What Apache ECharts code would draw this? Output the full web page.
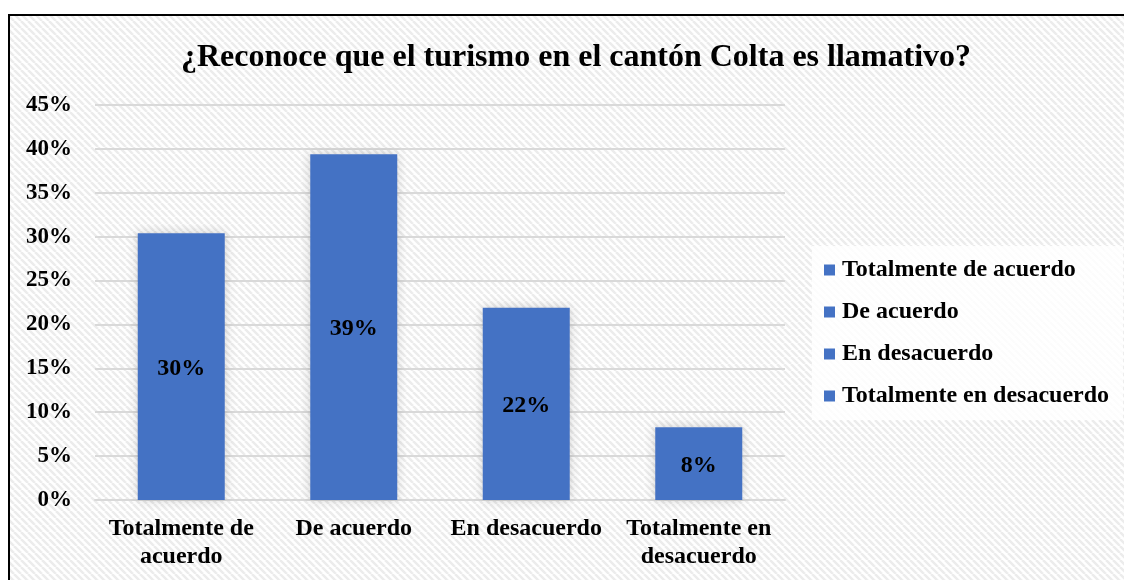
<!DOCTYPE html>
<html>
<head>
<meta charset="utf-8">
<script src="https://cdn.jsdelivr.net/npm/echarts@6/dist/echarts.min.js"></script>
<style>
  html, body { margin: 0; padding: 0; background: #ffffff; }
  #chart { width: 1124px; height: 580px; }
</style>
</head>
<body>
<div id="chart"></div>
<script>
// Survey answers and their shares
const categories = ['Totalmente de acuerdo', 'De acuerdo', 'En desacuerdo', 'Totalmente en desacuerdo'];
const axisLabels = ['Totalmente de\nacuerdo', 'De acuerdo', 'En desacuerdo', 'Totalmente en\ndesacuerdo'];
const shares = [0.304, 0.394, 0.219, 0.083];
const yTicks = { min: 0, max: 0.45, interval: 0.05 };

const FONT = '"Liberation Serif", "Times New Roman", serif';
const BLUE = '#4472c4';

// Light diagonal stripes for the chart area
function stripeTile() {
  const c = document.createElement('canvas');
  const s = 7;
  c.width = s; c.height = s;
  const g = c.getContext('2d');
  g.fillStyle = '#ffffff';
  g.fillRect(0, 0, s, s);
  g.strokeStyle = '#ececec';
  g.lineWidth = 2.5;
  for (let k = -1; k <= 1; k++) {
    g.beginPath();
    g.moveTo(k * s, 0);
    g.lineTo(k * s + s, s);
    g.stroke();
  }
  return c;
}

const chart = echarts.init(document.getElementById('chart'), null, { renderer: 'canvas' });

// One series per answer so each gets a legend entry; they share a stack
const series = categories.map((name, i) => ({
  name: name,
  type: 'bar',
  stack: 'answers',
  barWidth: 87,
  data: shares.map((v, j) => (j === i ? v : null)),
  itemStyle: {
    color: BLUE,
    shadowBlur: 10,
    shadowColor: 'rgba(0,0,0,0.18)'
  },
  label: {
    show: true,
    position: 'inside',
    offset: [0, 2],
    formatter: p => Math.round(p.value * 100) + '%',
    fontFamily: FONT,
    fontWeight: 'bold',
    fontSize: 24,
    color: '#000000'
  }
}));

chart.setOption({
  backgroundColor: '#ffffff',
  animation: false,
  graphic: [
    {
      type: 'rect',
      z: -10,
      silent: true,
      shape: { x: 9, y: 15, width: 1200, height: 700 },
      style: { fill: { image: stripeTile(), repeat: 'repeat' } }
    },
    {
      type: 'polyline',
      z: 100,
      silent: true,
      shape: { points: [[9, 700], [9, 15], [1200, 15]] },
      style: { stroke: '#000000', lineWidth: 2, fill: null }
    }
  ],
  title: {
    text: '¿Reconoce que el turismo en el cantón Colta es llamativo?',
    left: 571,
    textAlign: 'center',
    top: 37,
    textStyle: {
      fontFamily: FONT,
      fontWeight: 'bold',
      fontSize: 32,
      color: '#000000'
    }
  },
  legend: {
    orient: 'vertical',
    left: 812,
    top: 246,
    padding: [12, 14, 12, 12],
    backgroundColor: 'rgba(255,255,255,0.85)',
    itemWidth: 11,
    itemHeight: 11,
    itemGap: 18,
    icon: 'rect',
    textStyle: {
      fontFamily: FONT,
      fontWeight: 'bold',
      fontSize: 24,
      color: '#000000',
      padding: [0, 0, 0, 2]
    },
    data: categories
  },
  grid: {
    left: 95,
    right: 339,
    top: 105,
    bottom: 80,
    containLabel: false
  },
  xAxis: {
    type: 'category',
    data: axisLabels,
    axisLine: { show: true, lineStyle: { color: '#d9d9d9', width: 2 } },
    axisTick: { show: false },
    axisLabel: {
      fontFamily: FONT,
      fontWeight: 'bold',
      fontSize: 24,
      color: '#000000',
      lineHeight: 28,
      margin: 15,
      interval: 0
    }
  },
  yAxis: {
    type: 'value',
    min: yTicks.min,
    max: yTicks.max,
    interval: yTicks.interval,
    axisLine: { show: false },
    axisTick: { show: false },
    splitLine: { lineStyle: { color: '#d9d9d9', width: 2 } },
    axisLabel: {
      formatter: v => Math.round(v * 100) + '%',
      fontFamily: FONT,
      fontWeight: 'bold',
      fontSize: 23,
      color: '#000000',
      margin: 23
    }
  },
  series: series
});
</script>
</body>
</html>
